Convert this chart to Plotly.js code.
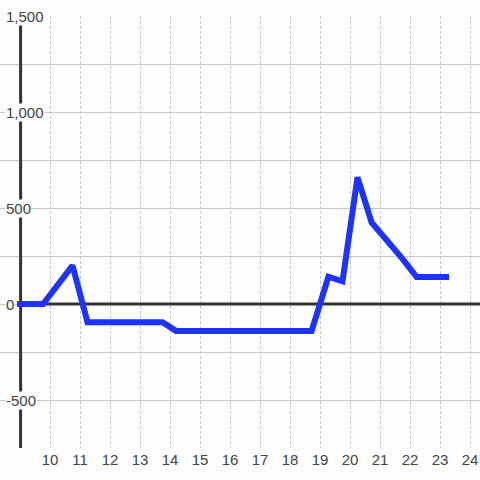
<!DOCTYPE html>
<html>
<head>
<meta charset="utf-8">
<script src="https://cdn.plot.ly/plotly-3.0.1.min.js"></script>
<style>html,body{margin:0;padding:0;background:#fcfdfc;}#chart{width:480px;height:480px;}</style>
</head>
<body>
<div id="chart"></div>
<script>
const hours = [8.9, 9.77, 10.75, 11.25, 13.75, 14.2, 18.72, 19.28, 19.75, 20.25, 20.72, 21.25, 21.75, 22.22, 23.3];
const values = [0, 0, 200, -95, -95, -140, -140, 142, 118, 660, 425, 330, 235, 140, 140];
const xTicks = [10, 11, 12, 13, 14, 15, 16, 17, 18, 19, 20, 21, 22, 23, 24];
const yLabelVals = [1500, 1000, 500, 0, -500];
const yLabelText = ['1,500', '1,000', '500', '0', '-500'];

const bg = '#fcfdfc';
const fontFam = 'Liberation Sans, Arial, sans-serif';
const annotations = yLabelVals.map((v, i) => ({
  xref: 'paper', yref: 'y', x: 0, y: v,
  xanchor: 'left', yanchor: 'middle', xshift: 5,
  text: yLabelText[i], showarrow: false,
  bgcolor: bg, borderpad: 0,
  font: {family: fontFam, size: 15, color: '#444'}
}));

const data = [{
  x: hours, y: values, type: 'scatter', mode: 'lines',
  line: {color: '#1f33ff', width: 6, shape: 'linear'},
  hoverinfo: 'skip'
}];

const layout = {
  width: 480, height: 480,
  margin: {l: 0, r: 0, t: 16, b: 32, pad: 0},
  paper_bgcolor: bg, plot_bgcolor: bg,
  showlegend: false,
  xaxis: {
    range: [8.3333, 24.3333],
    tickvals: xTicks, ticktext: xTicks.map(String),
    showgrid: true, gridcolor: '#c8c8c8', gridwidth: 1, griddash: '3px,2px',
    zeroline: false, showline: false, ticks: '', ticklabelstandoff: 1,
    tickfont: {family: fontFam, size: 15, color: '#444'}
  },
  yaxis: {
    range: [-750, 1500], dtick: 250, tick0: 0,
    showgrid: true, gridcolor: '#c8c8c8', gridwidth: 1,
    zeroline: false, showline: false, showticklabels: false, ticks: ''
  },
  shapes: [
    {type: 'line', layer: 'between', xref: 'x', yref: 'y', x0: 9, x1: 24.3333, y0: 0, y1: 0,
     line: {color: '#333', width: 3}},
    {type: 'line', layer: 'between', xref: 'x', yref: 'y', x0: 9.02, x1: 9.02, y0: -750, y1: 1458,
     line: {color: '#333', width: 3}}
  ],
  annotations: annotations
};

Plotly.newPlot('chart', data, layout, {displayModeBar: false, staticPlot: true});
</script>
</body>
</html>
